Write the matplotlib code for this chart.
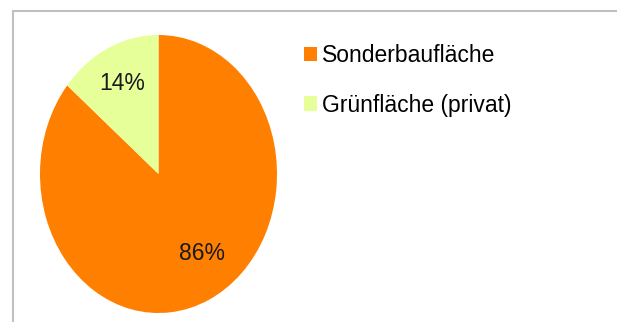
"""
Pie chart: Sonderbaufläche vs. Grünfläche (privat)
"""

import matplotlib
matplotlib.use('Agg')
import matplotlib.pyplot as plt
from matplotlib.lines import Line2D

# Data
categories = ['Sonderbaufläche', 'Grünfläche (privat)']
shares = [86, 14]
colors = ['#FF8000', '#E6FF99']

plt.rcParams['font.family'] = ['Liberation Sans', 'DejaVu Sans']

fig = plt.figure(figsize=(6.17, 3.22), dpi=100)
fig.patch.set_facecolor('white')

# Light grey frame (top and left edges visible)
fig.add_artist(Line2D([12.5 / 617, 1.0], [1 - 10.5 / 322, 1 - 10.5 / 322],
                      color='#C0C0C0', linewidth=1.5, transform=fig.transFigure))
fig.add_artist(Line2D([12.5 / 617, 12.5 / 617], [0.0, 1 - 10.5 / 322],
                      color='#C0C0C0', linewidth=1.5, transform=fig.transFigure))

# Pie is slightly taller than wide in the reference
ax = fig.add_axes([40 / 617, 9 / 322, 237 / 617, 278 / 322])
wedges, texts, autotexts = ax.pie(
    shares, colors=colors, startangle=90, counterclock=False,
    autopct='%d%%', pctdistance=0.72, radius=1.0,
    wedgeprops=dict(linewidth=0),
    textprops=dict(fontsize=16.5, color='#1A1A1A'))
ax.set_aspect('auto')
ax.set_xlim(-1, 1)
ax.set_ylim(-1, 1)

# nudge the big label like the original
autotexts[0].set_position((0.37, -0.57))

leg = fig.legend(wedges, categories, loc='upper left',
                 bbox_to_anchor=(304 / 617, 1 - 44 / 322),
                 frameon=False, fontsize=16.5, handlelength=0.57,
                 handleheight=0.6, handletextpad=0.22, labelspacing=1.16,
                 borderaxespad=0, borderpad=0)

plt.savefig('out.png', dpi=100, facecolor='white')
plt.close()
